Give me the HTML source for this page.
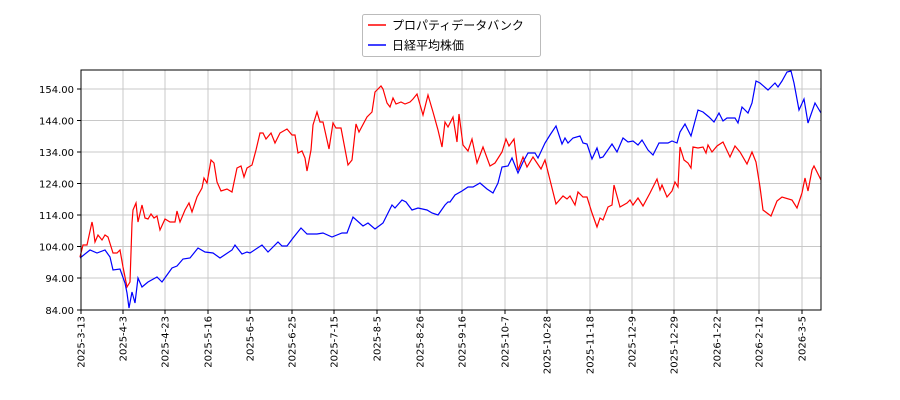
<!DOCTYPE html>
<html><head><meta charset="utf-8"><style>body{margin:0;background:#fff}svg{display:block}</style></head><body>
<svg width="900" height="400" xmlns="http://www.w3.org/2000/svg" font-family="DejaVu Sans, Noto Sans CJK JP, sans-serif">
<g stroke="#c8c8c8" stroke-width="1">
<line x1="81" y1="89" x2="821" y2="89"/><line x1="81" y1="120.5" x2="821" y2="120.5"/><line x1="81" y1="152" x2="821" y2="152"/><line x1="81" y1="183.5" x2="821" y2="183.5"/><line x1="81" y1="215" x2="821" y2="215"/><line x1="81" y1="246.5" x2="821" y2="246.5"/><line x1="81" y1="278" x2="821" y2="278"/>
<line x1="123" y1="70" x2="123" y2="310"/><line x1="165" y1="70" x2="165" y2="310"/><line x1="208" y1="70" x2="208" y2="310"/><line x1="250" y1="70" x2="250" y2="310"/><line x1="292" y1="70" x2="292" y2="310"/><line x1="334" y1="70" x2="334" y2="310"/><line x1="377" y1="70" x2="377" y2="310"/><line x1="420" y1="70" x2="420" y2="310"/><line x1="462" y1="70" x2="462" y2="310"/><line x1="505" y1="70" x2="505" y2="310"/><line x1="547" y1="70" x2="547" y2="310"/><line x1="590" y1="70" x2="590" y2="310"/><line x1="632" y1="70" x2="632" y2="310"/><line x1="674" y1="70" x2="674" y2="310"/><line x1="717" y1="70" x2="717" y2="310"/><line x1="759" y1="70" x2="759" y2="310"/><line x1="802" y1="70" x2="802" y2="310"/>
</g>
<polyline fill="none" stroke="#f00" stroke-width="1.2" points="80,257 83,245 87,245 92,222 93,227 95,242 98,235 102,240 105,235 108,237 113,253 117,253 120,250 123,267 127,287 130,282 132,223 133,210 136,203 138,222 142,205 145,218 148,219 151,214 154,218 157,216 160,230 165,219 170,222 175,222 177,211 180,222 185,210 189,203 192,212 197,197 202,188 204,178 207,183 211,160 214,163 217,182 221,191 227,189 232,192 237,168 241,166 244,177 247,168 252,165 256,150 260,133 263,133 266,139 271,133 275,143 280,133 287,129 292,135 295,135 298,153 302,151 305,158 307,171 311,150 313,125 317,112 320,122 323,122 329,149 333,123 336,128 341,128 348,165 352,160 356,124 359,132 367,117 372,112 375,92 381,86 383,89 387,103 390,107 393,98 396,104 401,102 405,104 410,102 413,99 417,94 421,108 423,115 428,95 433,112 438,130 442,147 445,122 448,127 450,123 453,117 457,142 459,114 463,145 468,151 472,139 477,163 483,147 490,166 495,163 502,152 506,139 509,146 514,139 518,170 523,157 527,167 533,157 541,169 545,160 550,180 556,204 563,196 567,199 570,196 575,205 578,192 583,197 587,197 592,213 597,227 600,218 603,220 608,207 612,205 614,185 620,207 627,203 630,200 633,205 638,198 643,206 650,193 657,179 660,190 662,185 667,197 672,191 675,182 678,187 680,147 684,160 688,163 691,168 693,147 698,148 703,147 706,153 708,145 712,152 717,146 723,142 730,157 735,146 740,152 747,164 752,152 756,162 760,187 763,210 771,216 777,201 782,197 792,200 797,208 802,193 805,178 808,191 812,170 814,166 821,180"/>
<polyline fill="none" stroke="#00f" stroke-width="1.2" points="80,258 90,250 97,253 105,250 110,257 113,270 120,269 125,283 127,293 129,308 132,292 135,303 138,278 142,287 148,282 157,277 162,282 167,275 172,268 177,266 183,259 190,258 198,248 205,252 213,253 220,258 232,250 235,245 242,254 247,252 250,253 262,245 268,252 278,242 282,246 287,246 293,238 301,228 307,234 317,234 323,233 332,237 342,233 347,233 353,217 363,226 368,223 375,229 383,223 392,205 395,208 402,200 406,202 412,210 418,208 427,210 432,213 438,215 445,205 448,202 450,202 455,195 462,191 468,187 473,187 480,183 487,189 493,193 498,183 502,167 508,166 512,158 518,173 523,162 528,153 535,153 538,158 545,143 550,135 556,126 562,144 565,138 568,143 573,138 580,136 583,143 587,144 592,159 597,148 600,158 603,157 612,144 617,152 623,138 628,142 633,141 638,145 642,140 648,150 653,155 659,143 668,143 672,141 677,143 680,132 685,124 691,136 698,110 703,112 709,117 714,122 719,113 723,121 727,118 735,118 738,123 742,107 748,113 752,103 756,81 760,83 768,90 775,83 778,87 782,81 787,72 791,71 794,83 799,110 804,99 808,123 815,103 821,113"/>
<rect x="81" y="70" width="740" height="240" fill="none" stroke="#000" stroke-width="1"/>
<g stroke="#000"><line x1="77" y1="89" x2="81" y2="89"/><line x1="77" y1="120.5" x2="81" y2="120.5"/><line x1="77" y1="152" x2="81" y2="152"/><line x1="77" y1="183.5" x2="81" y2="183.5"/><line x1="77" y1="215" x2="81" y2="215"/><line x1="77" y1="246.5" x2="81" y2="246.5"/><line x1="77" y1="278" x2="81" y2="278"/><line x1="77" y1="310" x2="81" y2="310"/></g>
<g font-size="10" text-anchor="end" fill="#000">
<text x="74" y="93">154.00</text><text x="74" y="124.5">144.00</text><text x="74" y="156">134.00</text><text x="74" y="187.5">124.00</text><text x="74" y="219">114.00</text><text x="74" y="250.5">104.00</text><text x="74" y="282">94.00</text><text x="74" y="314">84.00</text>
</g>
<g font-size="10" text-anchor="end" fill="#000">
<text transform="translate(84.5,316) rotate(-90)">2025-3-13</text>
<text transform="translate(126.5,316) rotate(-90)">2025-4-3</text>
<text transform="translate(168.5,316) rotate(-90)">2025-4-23</text>
<text transform="translate(211.5,316) rotate(-90)">2025-5-16</text>
<text transform="translate(253.5,316) rotate(-90)">2025-6-5</text>
<text transform="translate(295.5,316) rotate(-90)">2025-6-25</text>
<text transform="translate(337.5,316) rotate(-90)">2025-7-15</text>
<text transform="translate(380.5,316) rotate(-90)">2025-8-5</text>
<text transform="translate(423.5,316) rotate(-90)">2025-8-26</text>
<text transform="translate(465.5,316) rotate(-90)">2025-9-16</text>
<text transform="translate(508.5,316) rotate(-90)">2025-10-7</text>
<text transform="translate(550.5,316) rotate(-90)">2025-10-28</text>
<text transform="translate(593.5,316) rotate(-90)">2025-11-18</text>
<text transform="translate(635.5,316) rotate(-90)">2025-12-9</text>
<text transform="translate(677.5,316) rotate(-90)">2025-12-29</text>
<text transform="translate(720.5,316) rotate(-90)">2026-1-22</text>
<text transform="translate(762.5,316) rotate(-90)">2026-2-12</text>
<text transform="translate(805.5,316) rotate(-90)">2026-3-5</text>
</g>
<g stroke="#000"><line x1="81" y1="310" x2="81" y2="314"/><line x1="123" y1="310" x2="123" y2="314"/><line x1="165" y1="310" x2="165" y2="314"/><line x1="208" y1="310" x2="208" y2="314"/><line x1="250" y1="310" x2="250" y2="314"/><line x1="292" y1="310" x2="292" y2="314"/><line x1="334" y1="310" x2="334" y2="314"/><line x1="377" y1="310" x2="377" y2="314"/><line x1="420" y1="310" x2="420" y2="314"/><line x1="462" y1="310" x2="462" y2="314"/><line x1="505" y1="310" x2="505" y2="314"/><line x1="547" y1="310" x2="547" y2="314"/><line x1="590" y1="310" x2="590" y2="314"/><line x1="632" y1="310" x2="632" y2="314"/><line x1="674" y1="310" x2="674" y2="314"/><line x1="717" y1="310" x2="717" y2="314"/><line x1="759" y1="310" x2="759" y2="314"/><line x1="802" y1="310" x2="802" y2="314"/></g>
<rect x="362.5" y="14.5" width="178" height="42" fill="#fff" stroke="#bbb" rx="2"/>
<line x1="368" y1="25" x2="386" y2="25" stroke="#f00" stroke-width="1.5"/>
<line x1="368" y1="45" x2="386" y2="45" stroke="#00f" stroke-width="1.5"/>
<g font-size="12" fill="#000"><text x="392" y="29.5">プロパティデータバンク</text><text x="392" y="49.5">日経平均株価</text></g>
</svg>
</body></html>
